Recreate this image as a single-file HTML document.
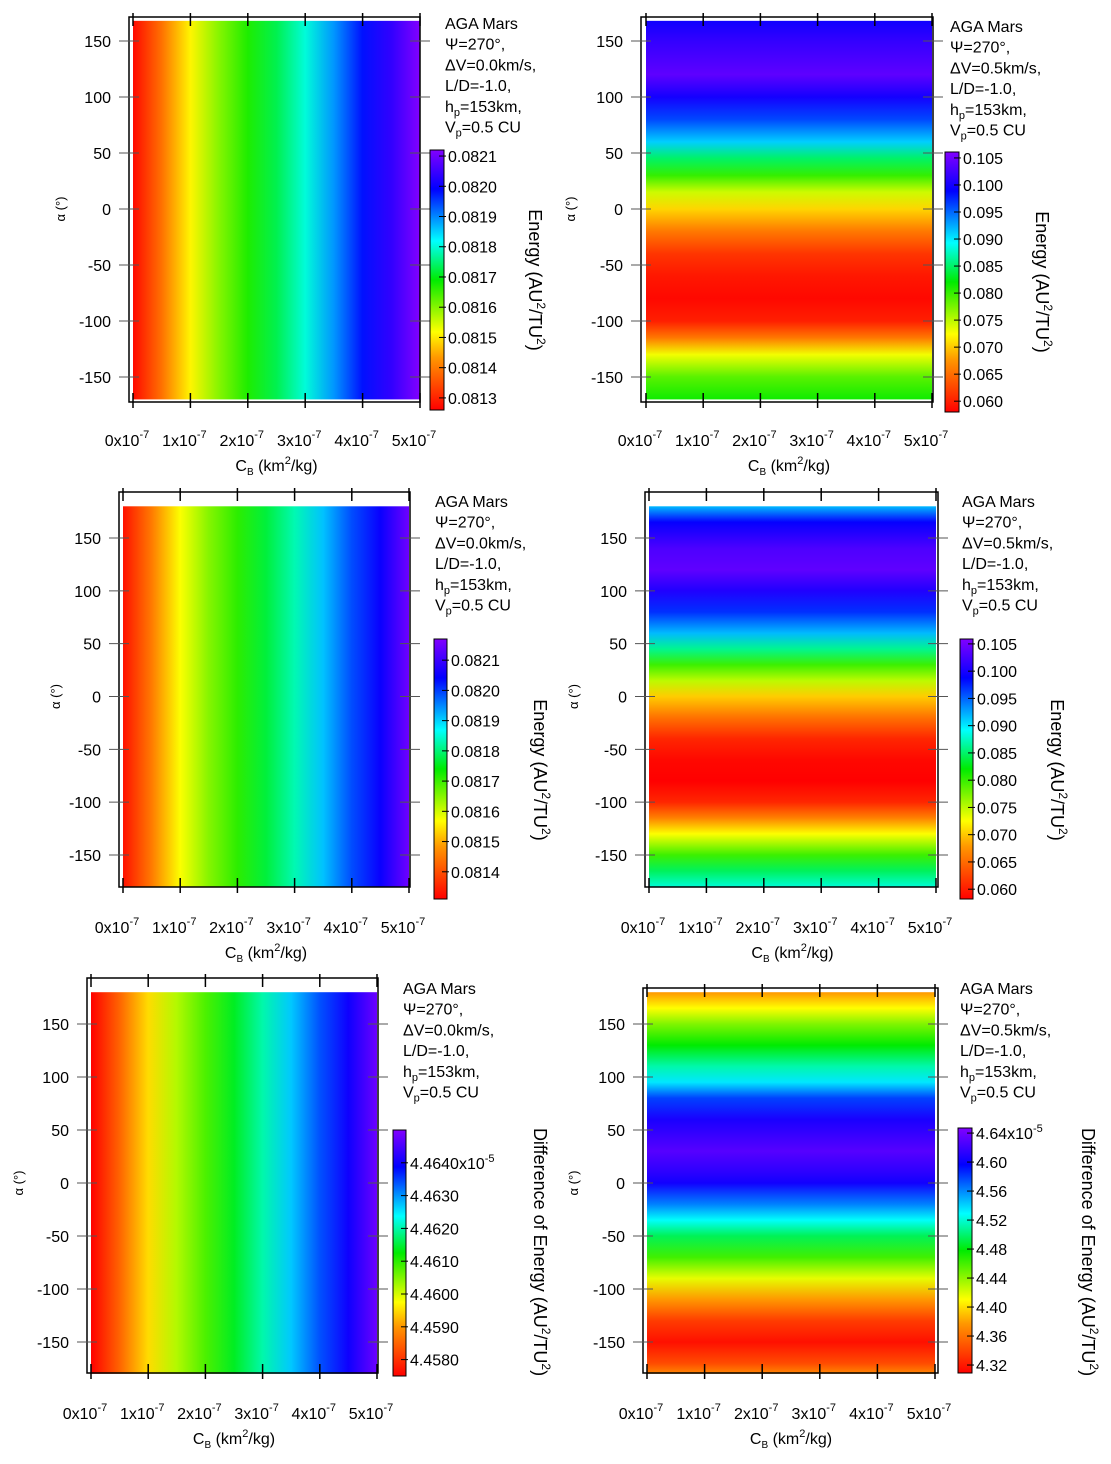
<!DOCTYPE html>
<html><head><meta charset="utf-8"><style>
body{margin:0;background:#fff}
svg{display:block;font-family:"Liberation Sans",sans-serif}
</style></head><body>
<svg id="s" width="1111" height="1464" viewBox="0 0 1111 1464"></svg>
<script>
// Panel data: energy along varying axis
const cbSamples = [0,0.5,1,1.5,2,2.5,3,3.5,4,4.5,5];
const p1Energy = [0.08127,0.08139,0.08151,0.08160,0.08167,0.08173,0.08180,0.08189,0.08198,0.08204,0.08212];
const p3Energy = [0.08133,0.08145,0.08157,0.08165,0.08171,0.08177,0.08183,0.08191,0.08199,0.08205,0.08215];
const p5Diff = [4.4575,4.4585,4.4595,4.4602,4.4608,4.4614,4.4620,4.4627,4.4634,4.4640,4.4648];
const p2Alpha = [168,150,120,100,80,60,45,30,15,0,-20,-40,-60,-80,-100,-115,-130,-150,-170];
const p2Energy = [0.0998,0.1017,0.1041,0.1000,0.0962,0.0911,0.0849,0.0801,0.0743,0.0705,0.0657,0.0614,0.0595,0.0585,0.0599,0.0657,0.0729,0.0787,0.0815];
const p4Alpha = [180,165,140,120,100,80,60,45,30,15,0,-20,-40,-60,-80,-100,-115,-130,-150,-165,-180];
const p4Energy = [0.0918,0.0990,0.1030,0.1040,0.1005,0.0970,0.0918,0.0861,0.0798,0.0750,0.0702,0.0654,0.0606,0.0587,0.0582,0.0606,0.0664,0.0726,0.0798,0.0846,0.0880];
const p6Alpha = [180,165,150,130,110,95,80,60,30,10,0,-20,-35,-50,-70,-90,-110,-130,-150,-170,-180];
const p6Diff = [4.377,4.410,4.444,4.478,4.512,4.535,4.579,4.606,4.630,4.613,4.603,4.562,4.528,4.495,4.461,4.417,4.377,4.336,4.316,4.343,4.370];
const xTicks = [0,1,2,3,4,5];
const yTicks = [150,100,50,0,-50,-100,-150];
const cbTicks1 = ["0.0813","0.0814","0.0815","0.0816","0.0817","0.0818","0.0819","0.0820","0.0821"];
const cbTicks3 = ["0.0814","0.0815","0.0816","0.0817","0.0818","0.0819","0.0820","0.0821"];
const cbTicks2 = ["0.060","0.065","0.070","0.075","0.080","0.085","0.090","0.095","0.100","0.105"];
const cbTicks5 = ["4.4580","4.4590","4.4600","4.4610","4.4620","4.4630","4.4640"];
const cbTicks6 = ["4.32","4.36","4.40","4.44","4.48","4.52","4.56","4.60","4.64"];

const panels = [
 {id:'p1',fx:129,fy:17,fw:291,fh:385,x0:133,x1:420,y150:41,ym150:377,aTop:168,aBot:-170,dir:'x',s:cbSamples,v:p1Energy,
  cb:[430,150,14,260],cmin:0.08126,cmax:0.08212,ct:cbTicks1,ann:[445,15],psi:'0.0',title:'Energy',tx:535,ty:280,ylx:60,xl:440,xt:470},
 {id:'p2',fx:641,fy:17,fw:292,fh:385,x0:646,x1:932,y150:41,ym150:377,aTop:168,aBot:-170,dir:'y',s:p2Alpha,v:p2Energy,
  cb:[945,152,14,260],cmin:0.0580,cmax:0.1061,ct:cbTicks2,ann:[950,18],psi:'0.5',title:'Energy',tx:1042,ty:282,ylx:570,xl:440,xt:470},
 {id:'p3',fx:119,fy:492,fw:291,fh:395,x0:123,x1:409,y150:538,ym150:855,aTop:180,aBot:-180,dir:'x',s:cbSamples,v:p3Energy,
  cb:[434,639,13,260],cmin:0.08131,cmax:0.08217,ct:cbTicks3,ann:[435,493],psi:'0.0',title:'Energy',tx:540,ty:770,ylx:55,xl:927,xt:957},
 {id:'p4',fx:645,fy:492,fw:293,fh:395,x0:649,x1:936,y150:538,ym150:855,aTop:180,aBot:-180,dir:'y',s:p4Alpha,v:p4Energy,
  cb:[960,639,13,260],cmin:0.0582,cmax:0.1059,ct:cbTicks2,ann:[962,493],psi:'0.5',title:'Energy',tx:1057,ty:770,ylx:573,xl:927,xt:957},
 {id:'p5',fx:87,fy:978,fw:291,fh:395,x0:91,x1:377,y150:1024,ym150:1342,aTop:180,aBot:-180,dir:'x',s:cbSamples,v:p5Diff,
  cb:[393,1130,13,246],cmin:4.4575,cmax:4.4650,ct:cbTicks5,ann:[403,980],psi:'0.0',title:'Difference of Energy',tx:540,ty:1252,ylx:18,xl:1413,xt:1443,exp:'4.4640'},
 {id:'p6',fx:643,fy:988,fw:295,fh:385,x0:647,x1:935,y150:1024,ym150:1342,aTop:180,aBot:-180,dir:'y',s:p6Alpha,v:p6Diff,
  cb:[958,1128,14,245],cmin:4.309,cmax:4.647,ct:cbTicks6,ann:[960,980],psi:'0.5',title:'Difference of Energy',tx:1088,ty:1252,ylx:573,xl:1413,xt:1443,exp:'4.64'}
];
const NS='http://www.w3.org/2000/svg';
const svg=document.getElementById('s');
const stops=[[0,[255,0,0]],[0.2,[255,150,0]],[0.3,[255,255,0]],[0.5,[0,235,0]],[0.65,[0,255,255]],[0.85,[0,0,255]],[1,[130,0,255]]];
function cmap(t){t=Math.max(0,Math.min(1,t));for(let i=1;i<stops.length;i++){if(t<=stops[i][0]){const a=stops[i-1],b=stops[i],f=(t-a[0])/(b[0]-a[0]);return 'rgb('+a[1].map((c,k)=>Math.round(c+(b[1][k]-c)*f)).join(',')+')';}}return 'rgb(130,0,255)';}
function el(tag,attrs,parent){const e=document.createElementNS(NS,tag);for(const k in attrs)e.setAttribute(k,attrs[k]);(parent||svg).appendChild(e);return e;}
function txt(x,y,s,size,anchor,parent){const t=el('text',{x:x,y:y,'font-size':size,'text-anchor':anchor||'start',fill:'#000'},parent);t.innerHTML=s;return t;}
const defs=el('defs',{});
panels.forEach(p=>{
 const g=el('g',{});
 
 
 const ky=(p.ym150-p.y150)/300;
 const ys=a=>p.y150+(150-a)*ky;
 const xs=c=>p.x0+(p.x1-p.x0)*c/5;
 const cs=v=>(v-p.cmin)/(p.cmax-p.cmin);
 const gid='g'+p.id;
 const yt=ys(p.aTop),yb=ys(p.aBot);
 const lg=el('linearGradient',p.dir==='x'?{id:gid,x1:0,y1:0,x2:1,y2:0}:{id:gid,x1:0,y1:0,x2:0,y2:1},defs);
 p.s.forEach((s,i)=>{
  const off=p.dir==='x'?(xs(s)-p.x0)/(p.x1-p.x0):(ys(s)-yt)/(yb-yt);
  el('stop',{offset:Math.max(0,Math.min(1,off)),'stop-color':cmap(cs(p.v[i]))},lg);
 });
 const hm=el('rect',{x:p.x0,y:yt,width:p.x1-p.x0,height:yb-yt,fill:'url(#'+gid+')'},g);
 
 
 const fr=el('rect',{x:p.fx,y:p.fy,width:p.fw,height:p.fh,fill:'none',stroke:'#000','stroke-width':1.5},g);
 
 
 xTicks.forEach(c=>{
  const x=xs(c);
  el('line',{x1:x,y1:p.fy-4,x2:x,y2:p.fy+9,stroke:'#000','stroke-width':1.5},g);
  el('line',{x1:x,y1:p.fy+p.fh-9,x2:x,y2:p.fy+p.fh+6,stroke:'#000','stroke-width':1.5},g);
  const t=txt(x-6,p.xl+6,c+'x10<tspan dy="-8" font-size="11">-7</tspan>',16,'middle',g);
  
  
 });
 yTicks.forEach(a=>{
  const y=ys(a);
  el('line',{x1:p.fx-10,y1:y,x2:p.fx+10,y2:y,stroke:'#555','stroke-width':1},g);
  el('line',{x1:p.fx+p.fw-10,y1:y,x2:p.fx+p.fw+10,y2:y,stroke:'#555','stroke-width':1},g);
  const t=txt(p.fx-18,y+6,String(a),16,'end',g);
  
  
 });
 const xt=txt((p.x0+p.x1)/2,p.xt+1,'C<tspan dy="4" font-size="10">B</tspan><tspan dy="-4"> (km</tspan><tspan dy="-7" font-size="11">2</tspan><tspan dy="7">/kg)</tspan>',16,'middle',g);
 
 
 const ytl=txt(0,0,'α (°)',13,'middle',g);
 ytl.setAttribute('transform','translate('+(p.ylx+5)+','+ys(0)+') rotate(-90)');
 
 
 const an=[p.ann[0],p.ann[1]+14];
 const lines=['AGA Mars','Ψ=270°,','ΔV='+p.psi+'km/s,','L/D=-1.0,','h<tspan dy="4" font-size="11">p</tspan><tspan dy="-4">=153km,</tspan>','V<tspan dy="4" font-size="11">p</tspan><tspan dy="-4">=0.5 CU</tspan>'];
 lines.forEach((l,i)=>{const t=txt(an[0],an[1]+i*20.7,l,16,'start',g);
  
  });
 const [cx,cy,cw,ch]=p.cb;
 const cg='cb'+p.id;
 const clg=el('linearGradient',{id:cg,x1:0,y1:1,x2:0,y2:0},defs);
 stops.forEach(s=>el('stop',{offset:s[0],'stop-color':cmap(s[0])},clg));
 const cbr=el('rect',{x:cx,y:cy,width:cw,height:ch,fill:'url(#'+cg+')',stroke:'#000','stroke-width':1},g);
 
 
 const cys=v=>cy+ch-(v-p.cmin)/(p.cmax-p.cmin)*ch;
 p.ct.forEach(l=>{
  const y=cys(parseFloat(l));
  el('line',{x1:cx+cw-5,y1:y,x2:cx+cw+2,y2:y,stroke:'#000','stroke-width':1},g);
  const s=(p.exp&&l===p.exp)?l+'x10<tspan dy="-7" font-size="11">-5</tspan>':l;
  const t=txt(cx+cw+4,y+6,s,16,'start',g);
  
  
 });
 const tt=txt(0,0,p.title+' (AU<tspan dy="-8" font-size="12">2</tspan><tspan dy="8">/TU</tspan><tspan dy="-8" font-size="12">2</tspan><tspan dy="8">)</tspan>',18,'middle',g);
 tt.setAttribute('transform','translate('+(p.tx-6)+','+p.ty+') rotate(90)');
 
 
});
</script>
</body></html>
